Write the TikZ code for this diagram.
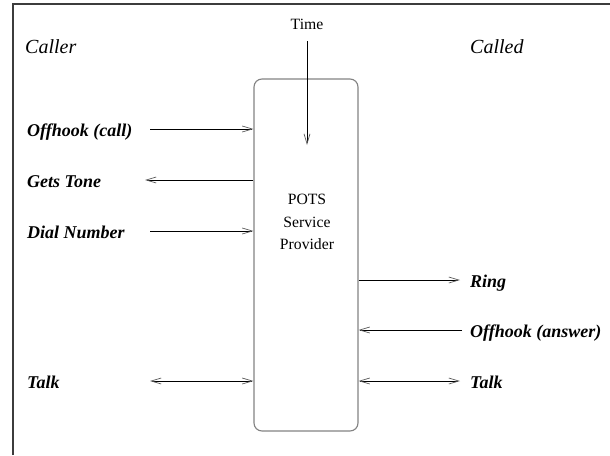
\documentclass[tikz,border=0pt]{standalone}
\usepackage{fontspec}
\setmainfont{Liberation Serif}
\usetikzlibrary{arrows.meta, positioning}
\definecolor{framegray}{RGB}{60, 60, 60}
\definecolor{boxgray}{RGB}{130, 130, 130}
\definecolor{tipgray}{RGB}{90, 90, 90}

\begin{document}
\begin{tikzpicture}[
  x=1pt, y=-1pt,
  >={Straight Barb[length=10pt, width=6pt, line width=0.7pt, color=tipgray]},
  box/.style={draw=boxgray, line width=1.1pt, rounded corners=8pt,
              minimum width=104pt, minimum height=352pt, inner sep=0pt},
  sig/.style={font=\fontsize{18}{21}\selectfont\bfseries\itshape,
              inner sep=0pt, anchor=base west},
  party/.style={font=\fontsize{20}{24}\selectfont\itshape,
                inner sep=0pt, anchor=base west},
  arr/.style={->, line width=0.8pt},
  darr/.style={<->, line width=0.8pt}
]
  \useasboundingbox (0,0) rectangle (610,455);
  \draw[framegray, line width=1.4pt] (13,455) -- (13,4) -- (610,4);

  \node[box] (pots) at (306,255) {};
  \node[align=center, font=\fontsize{15.7}{22.5}\selectfont,
        inner sep=0pt] (potsname) at (307,222) {POTS\\Service\\Provider};

  \node[party] (caller) at (25,53) {Caller};
  \node[party] (called) at (470,53) {Called};
  \node[font=\fontsize{15.7}{18}\selectfont, inner sep=0pt,
        anchor=base] (time) at (307,29) {Time};
  \coordinate (tend) at (307,145);
  \draw[arr] ([yshift=-12pt]time.south) -- (tend);

  % caller side
  \node[sig] (offcall) at (27,136.5) {Offhook (call)};
  \node[sig] (tone)    at (27,187.5) {Gets Tone};
  \node[sig] (dial)    at (27,238.5) {Dial Number};
  \node[sig] (talka)   at (27,388.5) {Talk};
  \coordinate (c1) at (150,129);
  \coordinate (c2) at (145,180);
  \coordinate (c3) at (150,231);
  \coordinate (c4) at (150,381);
  \draw[arr]  (c1) -- (c1 -| pots.west);
  \draw[arr]  (c2 -| pots.west) -- (c2);
  \draw[arr]  (c3) -- (c3 -| pots.west);
  \draw[darr] (c4) -- (c4 -| pots.west);

  % called side
  \node[sig] (ring)   at (470,287.5) {Ring};
  \node[sig] (offans) at (470,337.5) {Offhook (answer)};
  \node[sig] (talkb)  at (470,388.5) {Talk};
  \coordinate (c5) at (460,280);
  \coordinate (c6) at (462,330);
  \coordinate (c7) at (460,381);
  \draw[arr]  (c5 -| pots.east) -- (c5);
  \draw[arr]  (c6) -- (c6 -| pots.east);
  \draw[darr] (c7 -| pots.east) -- (c7);
\end{tikzpicture}
\end{document}
